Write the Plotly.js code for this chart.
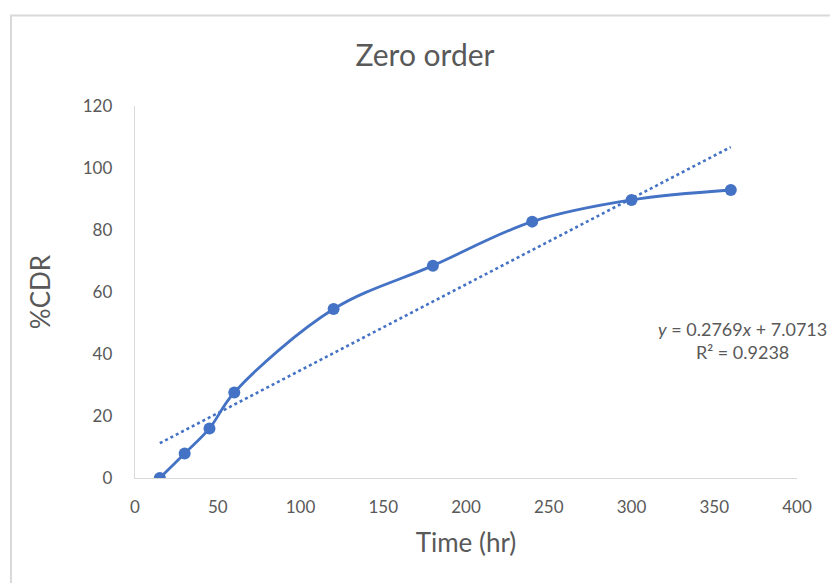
<!DOCTYPE html>
<html>
<head>
<meta charset="utf-8">
<script src="https://cdn.plot.ly/plotly-3.0.1.min.js"></script>
<style>html,body{margin:0;padding:0;background:#fff;}#chart{width:830px;height:583px;}</style>
</head>
<body>
<div id="chart"></div>
<script>
const timeHr = [15, 30, 45, 60, 120, 180, 240, 300, 360];
const cdrPct = [0, 7.9, 16.0, 27.6, 54.5, 68.5, 82.7, 89.7, 92.9];
const trendSlope = 0.2769;
const trendIntercept = 7.0713;
const rSquared = 0.9238;
const xTickVals = [0, 50, 100, 150, 200, 250, 300, 350, 400];
const yTickVals = [0, 20, 40, 60, 80, 100, 120];

const blue = '#4472C4';
const trendX = [timeHr[0], timeHr[timeHr.length - 1]];
const trendY = trendX.map(x => trendSlope * x + trendIntercept);

const font = 'Lato, "Open Sans", sans-serif';
const grey = '#595959';

const data = [
  {
    x: timeHr, y: cdrPct, type: 'scatter', mode: 'lines+markers',
    line: {color: blue, width: 2.8, shape: 'spline', smoothing: 1},
    marker: {color: blue, size: 12},
    hoverinfo: 'skip', showlegend: false
  },
  {
    x: trendX, y: trendY, type: 'scatter', mode: 'lines',
    line: {color: blue, width: 2.6, dash: 'dot'},
    hoverinfo: 'skip', showlegend: false
  }
];

const layout = {
  width: 830, height: 583,
  margin: {l: 135, r: 33, t: 106, b: 105},
  paper_bgcolor: '#fff', plot_bgcolor: '#fff',
  font: {family: font, color: grey, size: 17},
  title: {text: 'Zero order', font: {family: font, size: 30, color: grey},
          x: 0.512, xanchor: 'center', y: 0.904, yanchor: 'middle'},
  xaxis: {
    range: [0, 400], tickvals: xTickVals, ticktext: xTickVals.map(String),
    showgrid: false, zeroline: false, showline: true, linecolor: '#d9d9d9', linewidth: 1.3,
    ticks: '', ticklabelstandoff: 13,
    tickfont: {family: font, size: 17, color: grey},
    title: {text: 'Time (hr)', font: {family: font, size: 26, color: grey}, standoff: 18}
  },
  yaxis: {
    range: [0, 120], tickvals: yTickVals, ticktext: yTickVals.map(String),
    showgrid: false, zeroline: false, showline: true, linecolor: '#d9d9d9', linewidth: 1.3,
    ticks: '', ticklabelstandoff: 18,
    tickfont: {family: font, size: 17, color: grey},
    title: {text: '%CDR', font: {family: font, size: 26, color: grey}, standoff: 24}
  },
  annotations: [{
    xref: 'x', yref: 'y', x: 367, y: 44.5, xanchor: 'center', yanchor: 'middle',
    text: '<i>y</i> = ' + trendSlope + '<i>x</i> + ' + trendIntercept + '<br>R² = ' + rSquared,
    showarrow: false, align: 'center',
    font: {family: font, size: 18, color: grey}
  }],
  shapes: [{
    type: 'rect', xref: 'paper', yref: 'paper',
    x0: -0.1873, x1: 1.2, y0: -0.5, y1: 1.2433,
    line: {color: '#d9d9d9', width: 2}, fillcolor: 'rgba(0,0,0,0)', layer: 'below'
  }]
};

Plotly.newPlot('chart', data, layout, {staticPlot: true, displayModeBar: false});
</script>
</body>
</html>
